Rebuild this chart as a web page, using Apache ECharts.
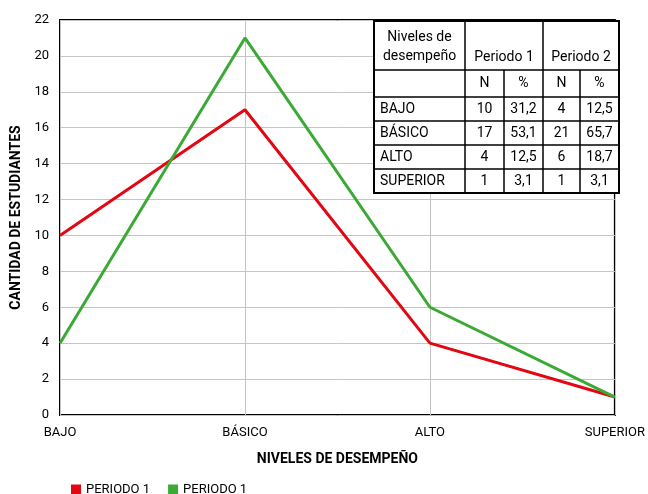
<!DOCTYPE html>
<html><head><meta charset="utf-8">
<script src="https://cdn.jsdelivr.net/npm/echarts@6/dist/echarts.min.js"></script>
<style>html,body{margin:0;padding:0;background:#fff}#c{width:648px;height:494px}</style>
</head><body><div id="c"></div>
<script>
var categories = ['BAJO', 'BÁSICO', 'ALTO', 'SUPERIOR'];
var periodo1 = [10, 17, 4, 1];
var periodo2 = [4, 21, 6, 1];
var legendNames = ['PERIODO 1', 'PERIODO 1\u200B'];
var tableRowLabels = ['BAJO', 'BÁSICO', 'ALTO', 'SUPERIOR'];
var tableP1N = ['10', '17', '4', '1'];
var tableP1Pct = ['31,2', '53,1', '12,5', '3,1'];
var tableP2N = ['4', '21', '6', '1'];
var tableP2Pct = ['12,5', '65,7', '18,7', '3,1'];

var FONT = 'Roboto, sans-serif';
var chart = echarts.init(document.getElementById('c'));

// table graphic
var colX = [374, 465, 504, 543, 580, 619];
var rowY = [21, 70, 97, 121, 145, 169, 193];
var g = [];
var LC = '#000';
g.push({type:'rect', shape:{x:colX[0], y:rowY[0], width:colX[5]-colX[0], height:rowY[6]-rowY[0]}, style:{fill:'#fff', stroke:LC, lineWidth:2}, z:100});
function hl(y){ g.push({type:'line', shape:{x1:colX[0], y1:y, x2:colX[5], y2:y}, style:{stroke:LC, lineWidth:1.5}, z:101}); }
function vl(x,y1,y2){ g.push({type:'line', shape:{x1:x, y1:y1, x2:x, y2:y2}, style:{stroke:LC, lineWidth:1.5}, z:101}); }
for (var i = 1; i < rowY.length - 1; i++) hl(rowY[i]);
vl(colX[1], rowY[0], rowY[6]);
vl(colX[3], rowY[0], rowY[6]);
vl(colX[2], rowY[1], rowY[6]);
vl(colX[4], rowY[1], rowY[6]);
function txt(s, x, y, align){ g.push({type:'text', x:x, y:y, style:{text:s, fill:'#000', font:'14px ' + FONT, align:align||'center', verticalAlign:'middle'}, z:102}); }
txt('Niveles de', (colX[0]+colX[1])/2, 37);
txt('desempeño', (colX[0]+colX[1])/2, 56);
txt('Periodo 1', (colX[1]+colX[3])/2, 57);
txt('Periodo 2', (colX[3]+colX[5])/2, 57);
txt('N', (colX[1]+colX[2])/2, (rowY[1]+rowY[2])/2);
txt('%', (colX[2]+colX[3])/2, (rowY[1]+rowY[2])/2);
txt('N', (colX[3]+colX[4])/2, (rowY[1]+rowY[2])/2);
txt('%', (colX[4]+colX[5])/2, (rowY[1]+rowY[2])/2);
for (var r = 0; r < tableRowLabels.length; r++) {
  var cy = (rowY[r+2] + rowY[r+3]) / 2;
  txt(tableRowLabels[r], colX[0] + 6, cy, 'left');
  txt(tableP1N[r], (colX[1]+colX[2])/2, cy);
  txt(tableP1Pct[r], (colX[2]+colX[3])/2, cy);
  txt(tableP2N[r], (colX[3]+colX[4])/2, cy);
  txt(tableP2Pct[r], (colX[4]+colX[5])/2, cy);
}

chart.setOption({
  animation: false,
  grid: {left: 60, right: 28, top: 20, bottom: 79, show: true, borderColor: '#000', borderWidth: 2, backgroundColor: 'transparent'},
  xAxis: {
    type: 'category', data: categories, boundaryGap: false,
    name: 'NIVELES DE DESEMPEÑO', nameLocation: 'middle', nameGap: 37,
    nameTextStyle: {fontFamily: FONT, fontWeight: 'bold', fontSize: 14, color: '#000'},
    axisLine: {show: false}, axisTick: {show: false},
    axisLabel: {fontFamily: FONT, fontSize: 13, color: '#000', margin: 11},
    splitLine: {show: true, lineStyle: {color: '#c4c4c4', width: 1}}
  },
  yAxis: {
    type: 'value', min: 0, max: 22, interval: 2,
    name: 'CANTIDAD DE ESTUDIANTES', nameLocation: 'middle', nameGap: 30,
    nameTextStyle: {fontFamily: FONT, fontWeight: 'bold', fontSize: 14, color: '#000'},
    axisLine: {show: false}, axisTick: {show: false},
    axisLabel: {fontFamily: FONT, fontSize: 13, color: '#000', margin: 11},
    splitLine: {show: true, lineStyle: {color: '#c4c4c4', width: 1}}
  },
  legend: {
    left: 66, top: 478, icon: 'rect', itemWidth: 10, itemHeight: 10, itemGap: 18,
    textStyle: {fontFamily: FONT, fontSize: 13, color: '#000'},
    data: legendNames
  },
  series: [
    {name: legendNames[0], type: 'line', data: periodo1, showSymbol: false, symbol: 'none',
     lineStyle: {color: '#e30613', width: 3}, itemStyle: {color: '#e30613'}},
    {name: legendNames[1], type: 'line', data: periodo2, showSymbol: false, symbol: 'none',
     lineStyle: {color: '#3aaa35', width: 3}, itemStyle: {color: '#3aaa35'}}
  ],
  graphic: g
});
</script></body></html>
